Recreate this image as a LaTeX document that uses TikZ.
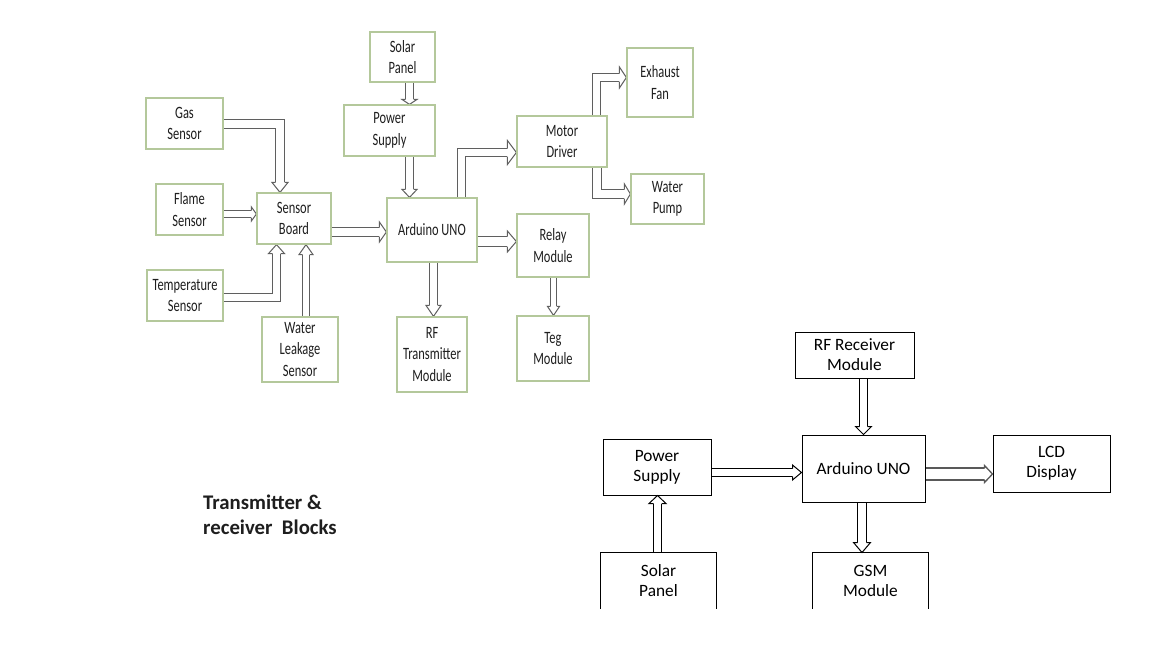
\documentclass[tikz,border=0pt]{standalone}
\usepackage{fontspec}
\setmainfont{Carlito}
\newfontfamily\cond[FakeStretch=0.72]{Carlito}
\usetikzlibrary{calc}
\pgfdeclarelayer{bg}
\pgfsetlayers{bg,main}
\definecolor{boxgreen}{RGB}{180,200,155}
\definecolor{arrgray}{RGB}{95,95,95}
\definecolor{txt}{RGB}{30,30,30}
% arrow heads: #1 style, #2 tip, #3 shaft half width, #4 head half width, #5 head length
\newcommand{\headR}[5]{\path[#1] ($(#2)+(-#5,-#3)$) -- ($(#2)+(-#5,-#4)$) -- (#2) -- ($(#2)+(-#5,#4)$) -- ($(#2)+(-#5,#3)$);}
\newcommand{\headD}[5]{\path[#1] ($(#2)+(-#3,-#5)$) -- ($(#2)+(-#4,-#5)$) -- (#2) -- ($(#2)+(#4,-#5)$) -- ($(#2)+(#3,-#5)$);}
\newcommand{\headU}[5]{\path[#1] ($(#2)+(-#3,#5)$) -- ($(#2)+(-#4,#5)$) -- (#2) -- ($(#2)+(#4,#5)$) -- ($(#2)+(#3,#5)$);}
\begin{document}
\begin{tikzpicture}[x=1pt,y=-1pt,line join=miter,
  tbox/.style={draw=boxgreen, line width=1.2pt, inner sep=0pt, align=center, text=txt,
    font=\cond\fontsize{17.3}{21.5}\selectfont},
  bbox/.style={draw=black, line width=1pt, inner sep=0pt, align=center, text=black,
    font=\fontsize{17.3}{20}\selectfont},
  tshaft/.style={draw=arrgray, line width=1pt, double=white},
  thead/.style={draw=arrgray, line width=1pt, fill=white},
  bshaft/.style={draw=black, line width=1pt, double=white},
  bhead/.style={draw=black, line width=1pt, fill=white}]
\useasboundingbox (0,0) rectangle (1152,648);

% ---------- transmitter blocks ----------
\node[tbox, minimum width=77pt, minimum height=51pt] (gas) at (184.5,123.5) {Gas\\Sensor};
\node[tbox, minimum width=67pt, minimum height=51pt] (flame) at (189.5,209.5) {Flame\\Sensor};
\node[tbox, minimum width=76pt, minimum height=51pt] (temp) at (185,295.5) {Temperature\\Sensor};
\node[tbox, minimum width=74pt, minimum height=51pt] (sb) at (294,218.5) {Sensor\\Board};
\node[tbox, minimum width=76pt, minimum height=65pt] (water) at (300,349.5) {Water\\Leakage\\Sensor};
\node[tbox, minimum width=65pt, minimum height=50pt] (solar1) at (402.5,57) {Solar\\Panel};
\node[tbox, minimum width=91pt, minimum height=51pt] (ps1) at (389.5,130.5) {Power\\Supply};
\node[tbox, minimum width=90pt, minimum height=64pt] (ard1) at (432,230) {Arduino UNO};
\node[tbox, minimum width=70pt, minimum height=75pt] (rft) at (432,354.5) {RF\\Transmitter\\Module};
\node[tbox, minimum width=90pt, minimum height=51pt] (motor) at (562,141.5) {Motor\\Driver};
\node[tbox, minimum width=66pt, minimum height=69pt] (exhaust) at (660,82.5) {Exhaust\\Fan};
\node[tbox, minimum width=73pt, minimum height=50pt] (pump) at (667.5,199) {Water\\Pump};
\node[tbox, minimum width=72pt, minimum height=63pt] (relay) at (553,245.5) {Relay\\Module};
\node[tbox, minimum width=72pt, minimum height=65pt] (teg) at (553,348.5) {Teg\\Module};

% ---------- receiver blocks ----------
\node[bbox, minimum width=108pt, minimum height=56pt] (ps2) at (657,467) {Power\\Supply};
\node[bbox, minimum width=123pt, minimum height=67pt] (ard2) at (863.5,468.5) {Arduino UNO};
\node[bbox, minimum width=119pt, minimum height=46pt] (rfr) at (854.5,355) {RF Receiver\\Module};
\node[bbox, minimum width=117pt, minimum height=57pt] (lcd) at (1051.5,463.5) {LCD\\Display};
\node[bbox, draw=none, minimum width=115pt, minimum height=55pt] (solar2) at (658.5,580.5) {Solar\\Panel};
\node[bbox, draw=none, minimum width=115pt, minimum height=55pt] (gsm) at (870.5,580.5) {GSM\\Module};
\draw[black, line width=1pt] (solar2.south west) -- (solar2.north west) -- (solar2.north east) -- (solar2.south east);
\draw[black, line width=1pt] (gsm.south west) -- (gsm.north west) -- (gsm.north east) -- (gsm.south east);

\node[anchor=north west, inner sep=0pt, align=left, text=txt,
  font=\bfseries\fontsize{20.8}{25}\selectfont] (title) at (203,494.5) {Transmitter \&\\receiver\ \ Blocks};

\begin{pgfonlayer}{bg}
\fill[white] (0,0) rectangle (1152,648);
% gas -> sensor board
\coordinate (tGas) at (sb.north -| 280,0);
\draw[tshaft, double distance=8pt] (gas.east |- 0,124) -- (tGas |- 0,124) -- ($(tGas)+(0,-10)$);
\headD{thead}{tGas}{4.5}{8}{10}
% flame -> sensor board
\coordinate (tFl) at (sb.west |- 0,214);
\draw[tshaft, double distance=6pt] (flame.east |- tFl) -- ($(tFl)+(-5,0)$);
\headR{thead}{tFl}{3.5}{7}{5}
% temperature -> sensor board
\coordinate (tTe) at (sb.south -| 276.5,0);
\draw[tshaft, double distance=7pt] (temp.east |- 0,297.5) -- (tTe |- 0,297.5) -- ($(tTe)+(0,9)$);
\headU{thead}{tTe}{4}{8}{9}
% water leakage -> sensor board
\coordinate (tWa) at (sb.south -| 306,0);
\draw[tshaft, double distance=6pt] (water.north -| tWa) -- ($(tWa)+(0,10)$);
\headU{thead}{tWa}{3.5}{7}{10}
% sensor board -> arduino
\coordinate (tSA) at (ard1.west |- 0,232);
\draw[tshaft, double distance=8pt] (sb.east |- tSA) -- ($(tSA)+(-7,0)$);
\headR{thead}{tSA}{4.5}{10}{7}
% solar -> power supply
\coordinate (tSP) at (ps1.north -| 409.5,0);
\draw[tshaft, double distance=7pt] (solar1.south -| tSP) -- ($(tSP)+(0,-5)$);
\headD{thead}{tSP}{4}{7.5}{5}
% power supply -> arduino
\coordinate (tPA) at (ard1.north -| 409.5,0);
\draw[tshaft, double distance=7pt] (ps1.south -| tPA) -- ($(tPA)+(0,-8)$);
\headD{thead}{tPA}{4}{7.5}{8}
% arduino -> rf transmitter
\coordinate (tRT) at (rft.north -| 433.5,0);
\draw[tshaft, double distance=7pt] (ard1.south -| tRT) -- ($(tRT)+(0,-11)$);
\headD{thead}{tRT}{4}{7.5}{11}
% arduino -> motor driver
\coordinate (tMo) at (motor.west |- 0,152.5);
\draw[tshaft, double distance=7pt] (ard1.north -| 461.5,0) -- (461.5,152.5) -- ($(tMo)+(-9,0)$);
\headR{thead}{tMo}{4}{12}{9}
% arduino -> relay
\coordinate (tRe) at (relay.west |- 0,241.5);
\draw[tshaft, double distance=9pt] (ard1.east |- tRe) -- ($(tRe)+(-9,0)$);
\headR{thead}{tRe}{5}{10.5}{9}
% motor -> exhaust fan
\coordinate (tEx) at (exhaust.west |- 0,77.5);
\draw[tshaft, double distance=7pt] (motor.north -| 596.5,0) -- (596.5,77.5) -- ($(tEx)+(-7,0)$);
\headR{thead}{tEx}{4}{10.5}{7}
% motor -> water pump
\coordinate (tPu) at (pump.west |- 0,194);
\draw[tshaft, double distance=8pt] (motor.south -| 597,0) -- (597,194) -- ($(tPu)+(-6,0)$);
\headR{thead}{tPu}{4.5}{10}{6}
% relay -> teg
\coordinate (tTg) at (teg.north -| 553.5,0);
\draw[tshaft, double distance=5pt] (relay.south -| tTg) -- ($(tTg)+(0,-9)$);
\headD{thead}{tTg}{3}{6}{9}

% receiver arrows
\coordinate (bPA) at (ard2.west |- 0,472.5);
\draw[bshaft, double distance=7pt] (ps2.east |- bPA) -- ($(bPA)+(-9,0)$);
\headR{bhead}{bPA}{4}{7.5}{9}
\coordinate (bSP) at (ps2.south -| 657.5,0);
\draw[bshaft, double distance=7pt] (solar2.north -| bSP) -- ($(bSP)+(0,8)$);
\headU{bhead}{bSP}{4}{8.5}{8}
\coordinate (bRA) at (ard2.north -| 863.5,0);
\draw[bshaft, double distance=7pt] (rfr.south -| bRA) -- ($(bRA)+(0,-8)$);
\headD{bhead}{bRA}{4}{8}{8}
\coordinate (bAL) at (lcd.west |- 0,474);
\draw[draw=gray!70!black, line width=1.6pt, double=white, double distance=10.4pt] (ard2.east |- bAL) -- ($(bAL)+(-8,0)$);
\headR{draw=gray!70!black, line width=1.3pt, fill=white}{bAL}{6}{8.5}{8}
\coordinate (bAG) at (gsm.north -| 862,0);
\draw[bshaft, double distance=8pt] (ard2.south -| bAG) -- ($(bAG)+(0,-10)$);
\headD{bhead}{bAG}{4.5}{8.5}{10}
\end{pgfonlayer}
\end{tikzpicture}
\end{document}
